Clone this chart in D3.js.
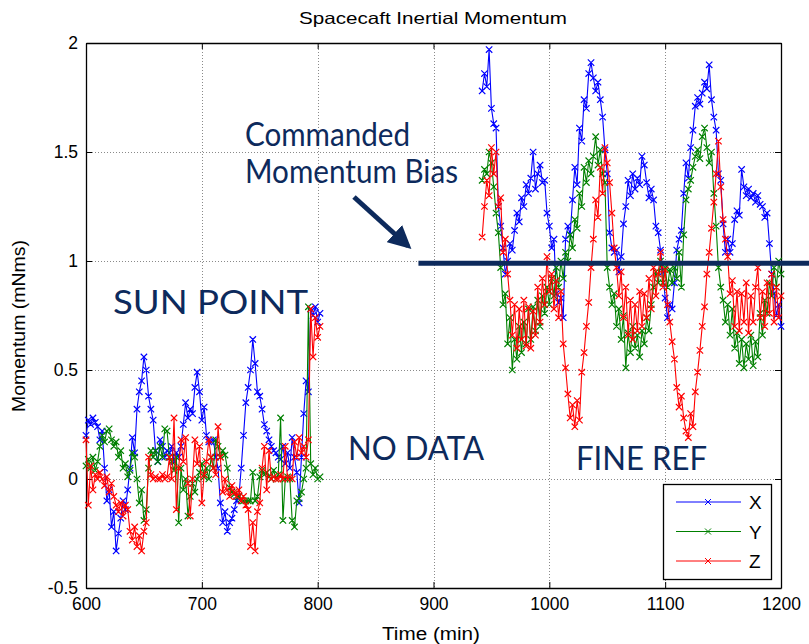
<!DOCTYPE html>
<html>
<head>
<meta charset="utf-8">
<script src="https://cdn.jsdelivr.net/npm/d3@7"></script>
<style>
  html, body { margin: 0; padding: 0; background: #fff; }
  svg { display: block; }
</style>
</head>
<body>
<svg id="chart" width="809" height="644"></svg>
<script>
// Sampling clocks (minutes) for the two telemetry passes
const sunStart = 600, sunEnd = 802, fineStart = 942, fineEnd = 1200, sampleStep = 2;
const sunTimes = d3.range(sunStart, sunEnd + 1, sampleStep);
const fineTimes = d3.range(fineStart, fineEnd + 1, sampleStep);

// Momentum components (mNms) during the sun-pointing pass
const sunX = [
  0.20,0.27,0.25,0.28,0.26,0.24,0.18,0.22,0.05,-0.10,
  -0.05,-0.22,-0.15,-0.33,-0.25,-0.18,-0.10,-0.14,-0.05,0.05,
  0.19,0.12,0.32,0.40,0.45,0.56,0.50,0.38,0.32,0.27,
  0.13,0.08,0.18,0.15,0.10,0.13,0.12,0.15,0.08,0.12,
  0.10,0.15,0.25,0.35,0.28,0.32,0.30,0.42,0.49,0.40,
  0.27,0.33,0.20,0.17,0.17,0.18,0.10,0.05,-0.11,-0.20,
  -0.15,-0.24,-0.20,-0.18,-0.14,-0.10,-0.08,0.05,0.20,0.35,
  0.42,0.50,0.64,0.53,0.40,0.38,0.32,0.25,0.22,0.18,
  0.15,0.13,0.12,0.10,0.09,0.15,0.07,0.12,0.05,0.19,
  0.10,0.03,-0.11,0.10,0.30,0.45,0.40,0.78,0.75,0.79,
  0.72,0.76
];
const sunY = [
  0.06,0.09,0.05,0.10,0.04,0.08,0.15,0.20,0.17,0.22,
  0.23,0.18,0.15,0.17,0.10,0.13,0.05,0.07,0.01,0.04,
  0.12,0.10,0.00,-0.11,-0.05,-0.19,-0.14,0.05,0.13,0.10,
  0.13,0.08,0.15,0.10,0.23,0.22,0.10,0.08,0.04,0.10,
  -0.20,0.05,-0.05,0.00,-0.17,-0.08,-0.02,-0.06,0.00,0.03,
  0.07,0.01,0.05,0.00,0.10,0.05,0.18,0.15,0.10,0.13,
  0.11,0.05,-0.04,-0.06,-0.07,-0.08,-0.08,-0.09,-0.10,-0.10,
  -0.10,-0.10,0.03,-0.10,-0.08,0.01,0.04,0.02,0.03,0.01,
  0.00,0.04,0.00,0.02,0.28,-0.19,0.00,0.01,0.00,-0.19,
  -0.22,-0.10,-0.09,-0.06,0.00,0.05,0.79,0.07,0.02,0.05,
  0.00,0.01
];
const sunZ = [
  0.18,-0.12,0.06,-0.05,0.02,0.00,0.03,0.00,-0.03,0.01,
  -0.06,-0.02,-0.08,-0.12,-0.15,-0.11,-0.17,-0.12,-0.14,-0.24,
  -0.28,-0.22,-0.31,-0.26,-0.33,-0.24,-0.20,0.10,0.02,0.00,
  0.01,0.00,0.00,0.02,0.00,0.01,0.10,0.00,0.28,-0.14,
  0.05,0.18,0.08,0.19,-0.02,-0.17,0.00,0.18,0.07,0.15,
  -0.11,0.02,0.08,0.18,0.10,0.05,0.02,0.24,0.10,-0.06,
  0.00,-0.05,-0.08,-0.03,-0.06,-0.08,-0.05,-0.10,-0.08,-0.12,
  -0.14,-0.31,-0.20,-0.33,-0.15,-0.11,0.05,0.15,-0.05,0.13,
  0.00,0.01,0.00,0.00,0.02,0.00,0.15,0.00,0.01,0.00,
  0.17,0.10,0.19,0.12,0.15,0.10,0.18,0.78,0.56,0.74,
  0.65,0.70
];

// Momentum components (mNms) during the fine-reference pass
const fineX = [
  1.78,1.86,1.80,1.97,1.70,1.63,1.61,1.25,1.16,1.06,
  0.94,1.00,1.08,1.05,1.14,1.22,1.18,1.29,1.25,1.35,
  1.31,1.38,1.50,1.33,1.40,1.44,1.36,1.37,1.22,1.16,
  1.06,1.10,0.85,0.81,0.83,0.74,1.10,1.16,1.12,1.28,
  1.43,1.35,1.61,1.55,1.74,1.70,1.86,1.91,1.84,1.78,
  1.82,1.74,1.66,1.51,1.40,1.13,1.06,1.04,1.05,0.95,
  1.02,1.17,1.25,1.37,1.30,1.40,1.33,1.38,1.35,1.48,
  1.44,1.36,1.29,1.33,1.28,1.16,1.13,1.05,0.95,0.83,
  0.74,0.80,0.78,0.90,1.05,1.10,1.14,1.31,1.45,1.38,
  1.52,1.60,1.71,1.75,1.72,1.77,1.82,1.79,1.90,1.74,
  1.66,1.60,1.40,1.37,1.17,1.04,1.10,1.04,1.08,1.19,
  1.23,1.21,1.42,1.34,1.30,1.33,1.29,1.31,1.27,1.30,
  1.26,1.25,1.20,1.22,1.08,0.94,0.85,0.75,0.80,0.70
];
const fineY = [
  1.37,1.42,1.40,1.50,1.45,1.34,1.22,1.13,0.97,0.80,
  0.85,0.62,0.74,0.50,0.64,0.55,0.70,0.58,0.72,0.62,
  0.78,0.64,0.79,0.68,0.82,0.70,0.84,0.76,0.88,0.80,
  0.92,0.84,0.97,0.88,1.00,0.92,1.04,1.00,1.12,1.06,
  1.19,1.15,1.31,1.25,1.43,1.36,1.46,1.40,1.48,1.57,
  1.44,1.51,1.40,1.36,0.97,0.88,0.80,0.85,0.70,0.78,
  0.64,0.75,0.51,0.67,0.58,0.70,0.60,0.66,0.56,0.68,
  0.62,0.74,0.68,0.80,0.88,0.95,0.90,1.00,0.90,0.97,
  0.88,0.96,0.90,0.97,0.92,1.04,0.88,1.12,1.28,1.33,
  1.37,1.43,1.48,1.51,1.47,1.57,1.61,1.52,1.45,1.50,
  1.31,1.16,0.97,0.88,0.82,0.72,0.80,0.66,0.78,0.60,
  0.67,0.53,0.64,0.51,0.62,0.55,0.66,0.52,0.63,0.56,
  0.76,0.66,0.82,0.76,0.90,0.84,0.97,0.88,1.00,0.94
];
const fineZ = [
  1.11,1.25,1.37,1.30,1.52,1.40,1.50,1.25,1.29,1.04,
  1.10,0.94,0.82,0.66,0.80,0.60,0.78,0.64,0.82,0.61,
  0.79,0.60,0.77,0.66,0.88,0.72,0.92,0.80,1.02,0.86,
  0.94,0.78,0.91,0.74,0.86,0.62,0.51,0.39,0.28,0.34,
  0.24,0.36,0.27,0.49,0.58,0.70,0.81,0.97,1.10,1.28,
  1.20,1.43,1.31,1.52,1.45,1.36,1.22,1.06,0.97,0.84,
  0.95,0.74,0.88,0.66,0.82,0.64,0.80,0.68,0.86,0.70,
  0.85,0.74,0.92,0.78,0.97,0.84,0.94,1.04,0.88,0.96,
  0.80,0.72,0.63,0.55,0.42,0.33,0.38,0.28,0.22,0.19,
  0.30,0.24,0.40,0.49,0.59,0.70,0.79,0.94,1.04,1.15,
  1.27,1.40,1.55,1.34,1.19,1.10,1.02,0.85,0.91,0.70,
  0.86,0.68,0.85,0.72,0.90,0.67,0.84,0.72,0.88,0.97,
  0.74,0.86,0.70,0.90,0.76,0.94,0.72,0.88,0.74,0.84
];

const seriesNames = ["X", "Y", "Z"];
const seriesColors = ["#0000ff", "#008000", "#ff0000"];
const sunSeries = [sunX, sunY, sunZ];
const fineSeries = [fineX, fineY, fineZ];

const xTicks = [600, 700, 800, 900, 1000, 1100, 1200];
const yTicks = [-0.5, 0, 0.5, 1, 1.5, 2];
const xDomain = [600, 1200];
const yDomain = [-0.5, 2];

// Commanded bias level and where its marker line starts
const biasValue = 0.99;
const biasStartTime = 887;

const titleText = "Spacecaft Inertial Momentum";
const xLabel = "Time (min)";
const yLabel = "Momentum (mNms)";

// ---------------------------------------------------------------
const svg = d3.select("#chart");
const plot = { left: 86, right: 781, top: 43, bottom: 588 };
const axisFont = "'Liberation Sans', Arial, Helvetica, sans-serif";
const noteFont = "Lato, 'Open Sans', sans-serif";
const noteColor = "#0d2a5c";

const x = d3.scaleLinear().domain(xDomain).range([plot.left, plot.right]);
const y = d3.scaleLinear().domain(yDomain).range([plot.bottom, plot.top]);

// dotted grid
const grid = svg.append("g").attr("stroke", "#8a8a8a").attr("stroke-dasharray", "1,2").attr("stroke-width", 1);
grid.selectAll(".gx").data(xTicks.slice(1, -1)).join("line")
  .attr("x1", d => Math.round(x(d)) + 0.5).attr("x2", d => Math.round(x(d)) + 0.5)
  .attr("y1", plot.top).attr("y2", plot.bottom);
grid.selectAll(".gy").data(yTicks.slice(1, -1)).join("line")
  .attr("y1", d => Math.round(y(d)) + 0.5).attr("y2", d => Math.round(y(d)) + 0.5)
  .attr("x1", plot.left).attr("x2", plot.right);

// axes with inward ticks on all four sides
function styleAxis(g) {
  g.select(".domain").attr("stroke", "#000").attr("stroke-width", 1.3);
  g.selectAll(".tick line").attr("stroke", "#000");
  g.selectAll("text").attr("font-family", axisFont).attr("font-size", 17.5).attr("fill", "#000");
}
svg.append("g").attr("transform", `translate(0,${plot.bottom})`)
  .call(d3.axisBottom(x).tickValues(xTicks).tickSizeInner(-6).tickSizeOuter(0).tickPadding(10).tickFormat(d3.format("d")))
  .call(styleAxis);
svg.append("g").attr("transform", `translate(0,${plot.top})`)
  .call(d3.axisTop(x).tickValues(xTicks).tickSizeInner(-6).tickSizeOuter(0).tickFormat(""))
  .call(styleAxis);
svg.append("g").attr("transform", `translate(${plot.left},0)`)
  .call(d3.axisLeft(y).tickValues(yTicks).tickSizeInner(-6).tickSizeOuter(0).tickPadding(8).tickFormat(d => String(d)))
  .call(styleAxis);
svg.append("g").attr("transform", `translate(${plot.right},0)`)
  .call(d3.axisRight(y).tickValues(yTicks).tickSizeInner(-6).tickSizeOuter(0).tickFormat(""))
  .call(styleAxis);

// data: line plus 'x' markers, two passes per component
const line = d3.line().x(d => x(d[0])).y(d => y(d[1]));
const crossPath = (px, py, r) => `M${px - r},${py - r}L${px + r},${py + r}M${px - r},${py + r}L${px + r},${py - r}`;

const dataLayer = svg.append("g");
seriesNames.forEach((name, i) => {
  const passes = [
    sunTimes.map((t, k) => [t, sunSeries[i][k]]),
    fineTimes.map((t, k) => [t, fineSeries[i][k]])
  ];
  passes.forEach(pts => {
    dataLayer.append("path").attr("d", line(pts))
      .attr("fill", "none").attr("stroke", seriesColors[i]).attr("stroke-width", 1.1);
    dataLayer.append("path")
      .attr("d", pts.map(p => crossPath(x(p[0]), y(p[1]), 3.2)).join(""))
      .attr("fill", "none").attr("stroke", seriesColors[i]).attr("stroke-width", 1.2);
  });
});

// commanded momentum bias marker line
svg.append("line")
  .attr("x1", x(biasStartTime)).attr("x2", 809)
  .attr("y1", y(biasValue)).attr("y2", y(biasValue))
  .attr("stroke", noteColor).attr("stroke-width", 5);

// arrow pointing at the bias line
const defs = svg.append("defs");
defs.append("marker").attr("id", "arrowHead")
  .attr("viewBox", "0 0 10 10").attr("refX", 8).attr("refY", 5)
  .attr("markerWidth", 4.6).attr("markerHeight", 4.6).attr("orient", "auto")
  .append("path").attr("d", "M0,0L10,5L0,10Z").attr("fill", noteColor);
svg.append("line")
  .attr("x1", 354).attr("y1", 197).attr("x2", 408).attr("y2", 246)
  .attr("stroke", noteColor).attr("stroke-width", 5)
  .attr("marker-end", "url(#arrowHead)");

// annotations
const notes = [
  { text: "Commanded", x: 245, y: 146, w: 165 },
  { text: "Momentum Bias", x: 245, y: 183, w: 213 },
  { text: "SUN POINT", x: 113, y: 314, w: 195 },
  { text: "NO DATA", x: 348, y: 460, w: 136 },
  { text: "FINE REF", x: 576, y: 470, w: 131 }
];
svg.append("g").selectAll("text").data(notes).join("text")
  .attr("x", d => d.x).attr("y", d => d.y)
  .attr("textLength", d => d.w).attr("lengthAdjust", "spacingAndGlyphs")
  .attr("font-family", noteFont).attr("font-size", 33)
  .attr("fill", noteColor).text(d => d.text);

// legend
const lg = { x: 663, y: 484, w: 108, h: 95 };
const legend = svg.append("g");
legend.append("rect").attr("x", lg.x + 0.5).attr("y", lg.y + 0.5).attr("width", lg.w).attr("height", lg.h)
  .attr("fill", "#fff").attr("stroke", "#000").attr("stroke-width", 1.3);
seriesNames.forEach((name, i) => {
  const ly = lg.y + 18 + i * 29.5;
  legend.append("line").attr("x1", lg.x + 13).attr("x2", lg.x + 78).attr("y1", ly).attr("y2", ly)
    .attr("stroke", seriesColors[i]).attr("stroke-width", 1);
  legend.append("path").attr("d", crossPath(lg.x + 45, ly, 3))
    .attr("stroke", seriesColors[i]).attr("fill", "none");
  legend.append("text").attr("x", lg.x + 86).attr("y", ly + 7)
    .attr("font-family", axisFont).attr("font-size", 19).attr("fill", "#000").text(name);
});

// title and axis labels
svg.append("text").attr("x", 433).attr("y", 24).attr("text-anchor", "middle")
  .attr("font-family", axisFont).attr("font-size", 16.5).attr("textLength", 268).attr("lengthAdjust", "spacingAndGlyphs")
  .text(titleText);
svg.append("text").attr("x", 431).attr("y", 640).attr("text-anchor", "middle")
  .attr("font-family", axisFont).attr("font-size", 17.5).attr("textLength", 98).attr("lengthAdjust", "spacingAndGlyphs")
  .text(xLabel);
svg.append("text").attr("transform", "translate(25,326) rotate(-90)").attr("text-anchor", "middle")
  .attr("font-family", axisFont).attr("font-size", 17.5).attr("textLength", 172).attr("lengthAdjust", "spacingAndGlyphs")
  .text(yLabel);
</script>
</body>
</html>
